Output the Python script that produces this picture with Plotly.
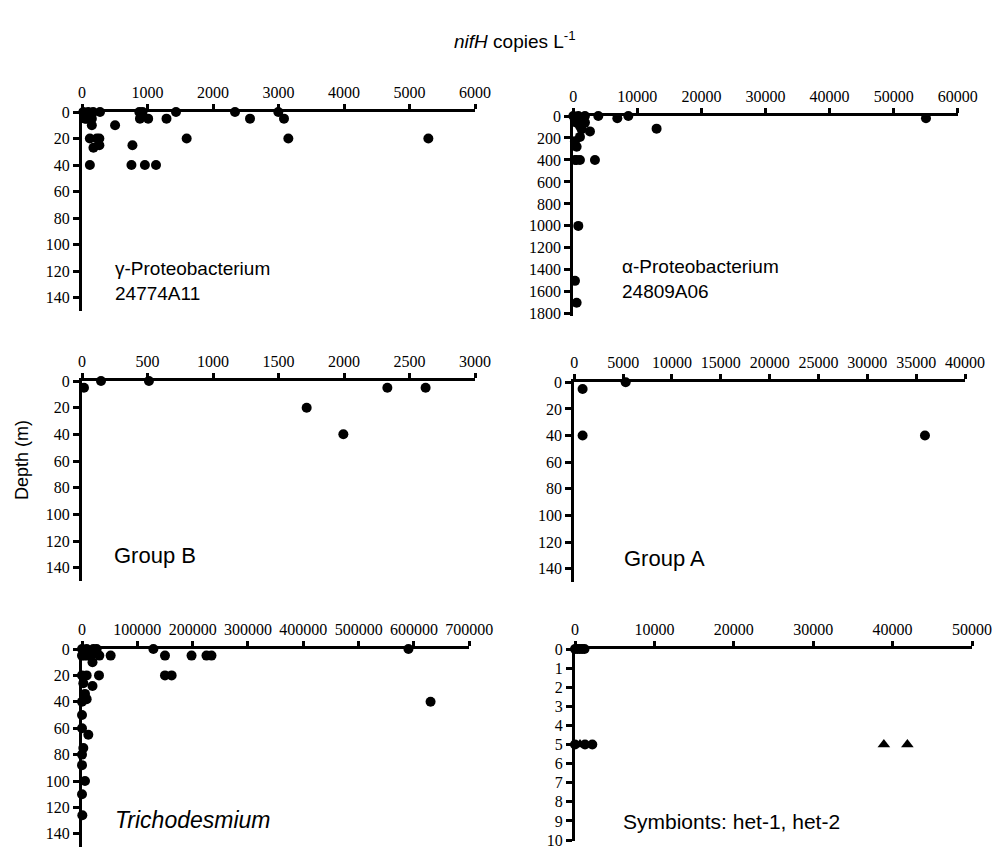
import plotly.graph_objects as go

W, H = 996, 850

# ---------------- data ----------------
gamma_x = [20, 95, 170, 275, 45, 70, 150, 150, 120, 225, 265, 175, 265, 120, 505, 770, 755, 960, 1130,
           885, 1010, 1290, 875, 925, 1435, 1598, 2336, 2565, 2997, 3084, 3150, 5288]
gamma_d = [0, 0, 0, 0, 5, 5, 5, 10, 20, 20, 20, 27, 25, 40, 10, 25, 40, 40, 40,
           5, 5, 5, 0, 0, 0, 20, 0, 5, 0, 5, 20, 20]

alpha_x = [0, 780, 1820, 3900, 8590, 6870, 260, 520, 1040, 1300, 1820, 2600, 13000, 55050,
           1040, 260, 520, 260, 520, 1040, 3380, 780, 260, 520]
alpha_d = [0, 0, 0, 0, 0, 20, 40, 60, 90, 120, 60, 140, 115, 20,
           190, 230, 280, 400, 400, 400, 400, 1000, 1500, 1700]

groupB_x = [15, 145, 511, 1715, 1995, 2331, 2623]
groupB_d = [5, 0, 0, 20, 40, 5, 5]

groupA_x = [850, 5260, 850, 35900]
groupA_d = [5, 0, 40, 40]

tricho_x = [0, 8400, 20500, 26500, 129000, 590000, 0, 4000, 9000, 16000, 31300, 51800, 150000,
            198000, 225000, 234000, 19000, 0, 8400, 30700, 150000, 162000, 2400, 19000, 5400,
            8400, 0, 0, 0, 11400, 2400, 0, 0, 5400, 0, 600, 630000]
tricho_d = [0, 0, 0, 0, 0, 0, 5, 5, 5, 5, 5, 5, 5,
            5, 5, 5, 10, 20, 20, 20, 20, 20, 26, 28, 34,
            38, 40, 50, 60, 65, 75, 80, 88, 100, 110, 126, 40]

het1_x = [0, 300, 600, 900, 1200, 0, 1260, 2180]
het1_d = [0, 0, 0, 0, 0, 5, 5, 5]
het2_x = [630, 38900, 41860]
het2_d = [5, 5, 5]

panel_labels = ["γ-Proteobacterium<br>24774A11", "α-Proteobacterium<br>24809A06",
                "Group B", "Group A", "<i>Trichodesmium</i>", "Symbionts: het-1, het-2"]
x_ranges = [6000, 60000, 3000, 40000, 700000, 50000]
x_dticks = [1000, 10000, 500, 5000, 100000, 10000]
y_ranges = [150, 1820, 150, 150, 150, 10.05]
y_dticks = [20, 200, 20, 20, 20, 1]

# ---------------- layout geometry (pixels) ----------------
px_boxes = [  # x0, x1, y0(top), y1(bottom)
    (82, 475, 112, 311),
    (573.3, 957.7, 116, 316),
    (82, 475, 381, 581),
    (574.3, 965, 382.3, 582),
    (82, 469.3, 649, 847),
    (575, 972, 649, 841),
]

fig = go.Figure()

series = [
    [(gamma_x, gamma_d, "circle")],
    [(alpha_x, alpha_d, "circle")],
    [(groupB_x, groupB_d, "circle")],
    [(groupA_x, groupA_d, "circle")],
    [(tricho_x, tricho_d, "circle")],
    [(het1_x, het1_d, "circle"), (het2_x, het2_d, "triangle-up")],
]

layout = {}
tick_font = dict(family="Liberation Serif, Times New Roman, serif", size=16, color="black")
for i, (box, ser) in enumerate(zip(px_boxes, series)):
    n = "" if i == 0 else str(i + 1)
    x0, x1, yt, yb = box
    for xs, ds, sym in ser:
        fig.add_trace(go.Scatter(
            x=xs, y=ds, mode="markers", xaxis="x" + n, yaxis="y" + n,
            marker=dict(symbol=sym, size=10 if sym == "circle" else 11, color="black"),
            cliponaxis=False, showlegend=False, hoverinfo="x+y"))
    layout["xaxis" + n] = dict(
        domain=[x0 / W, x1 / W], anchor="y" + n, side="top",
        range=[0, x_ranges[i]], dtick=x_dticks[i], tick0=0, tickformat="d",
        showline=True, linecolor="black", linewidth=3, automargin=False,
        ticks="outside", ticklen=5, tickwidth=3, tickcolor="black",
        showgrid=False, zeroline=False, tickfont=tick_font, fixedrange=True)
    layout["yaxis" + n] = dict(
        domain=[1 - yb / H, 1 - yt / H], anchor="x" + n,
        range=[y_ranges[i], 0], dtick=y_dticks[i], tick0=0, tickformat="d",
        showline=True, linecolor="black", linewidth=3, automargin=False,
        ticks="outside", ticklen=6, tickwidth=3, tickcolor="black",
        showgrid=False, zeroline=False, tickfont=tick_font, fixedrange=True)

sans = "Liberation Sans, Arial, sans-serif"
label_pos = [  # left px, center y px, font size
    (113, 281, 19),
    (620, 279, 19),
    (112, 555, 22),
    (622, 558, 22),
    (113, 820, 23),
    (621, 821, 21),
]
annotations = []
for txt, (lx, ly, fs) in zip(panel_labels, label_pos):
    annotations.append(dict(text=txt, x=lx / W, y=1 - ly / H, xref="paper", yref="paper",
                            xanchor="left", yanchor="middle", align="left", showarrow=False,
                            font=dict(family=sans, size=fs, color="black")))
annotations.append(dict(text="<i>nifH</i> copies L<sup>-1</sup>", x=515 / W, y=1 - 40 / H,
                        xref="paper", yref="paper", xanchor="center", yanchor="middle",
                        showarrow=False, font=dict(family=sans, size=19, color="black")))
annotations.append(dict(text="Depth (m)", x=22 / W, y=1 - 460 / H, xref="paper", yref="paper",
                        xanchor="center", yanchor="middle", textangle=-90, showarrow=False,
                        font=dict(family=sans, size=18, color="black")))

fig.update_layout(width=W, height=H, margin=dict(l=0, r=0, t=0, b=0),
                  paper_bgcolor="white", plot_bgcolor="white",
                  annotations=annotations, **layout)

fig.write_html("out.html", config={"displayModeBar": False},
               post_script="document.body.style.margin='0px';document.body.style.overflow='hidden';")
